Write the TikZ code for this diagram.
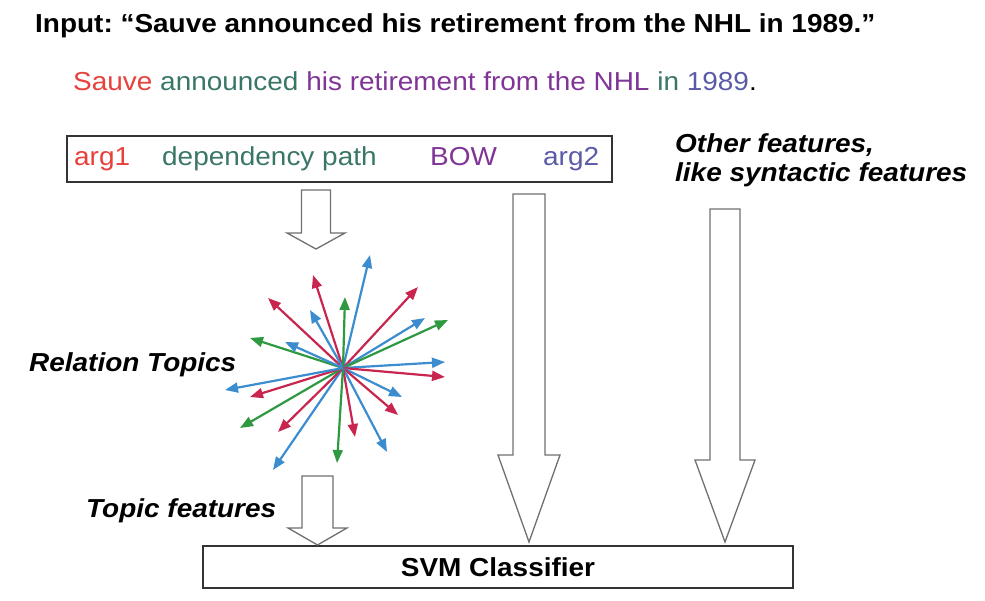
\documentclass[tikz,border=0pt]{standalone}
\usepackage{fontspec}
\setmainfont{Liberation Sans}[FakeStretch=1.075]
\usetikzlibrary{arrows.meta}
\frenchspacing
\definecolor{rcol}{RGB}{200,37,79}
\definecolor{bcol}{RGB}{60,140,208}
\definecolor{gcol}{RGB}{46,153,64}
\definecolor{scol}{RGB}{232,64,58}
\definecolor{tcol}{RGB}{58,118,104}
\definecolor{pcol}{RGB}{128,52,150}
\definecolor{ncol}{RGB}{90,90,168}
\definecolor{acol}{RGB}{112,112,112}
\tikzset{every picture/.style={x=1pt,y=-1pt}}
\tikzset{edge/.style={line width=2.2pt,-{Triangle[length=13pt,width=10pt]}}}
\tikzset{txt/.style={inner sep=0pt,anchor=base west}}
\tikzset{big/.style={font=\fontsize{26}{30}\selectfont\bfseries}}
\tikzset{bigit/.style={font=\fontsize{26}{30}\selectfont\bfseries\itshape}}
\tikzset{plain/.style={font=\fontsize{26}{30}\selectfont}}
\tikzset{blk/.style={draw=acol,line width=1.3pt,fill=white}}
\tikzset{frame/.style={draw=black!80,line width=1.5pt}}
\newcommand{\fatarrow}[6]{\draw [blk] ({#1-#2},#4) -- ({#1+#2},#4) -- ({#1+#2},#5) -- ({#1+#3},#5) -- (#1,#6) -- ({#1-#3},#5) -- ({#1-#2},#5) -- cycle;}

\begin{document}
\begin{tikzpicture}
\useasboundingbox (0,0) rectangle (985,601);

\node [txt,big] (inp) at (35,33) {Input: “Sauve announced his retirement from the NHL in 1989.”};
\node [txt,plain] (sent) at (73,91) {{\color{scol}Sauve} {\color{tcol}announced} {\color{pcol}his retirement from the NHL} {\color{tcol}in} {\color{ncol}1989}.};

\node [frame,minimum width=545pt,minimum height=46pt,inner sep=0pt] (feat) at (339.5,159) {};
\node [txt,plain,scol] (a1) at (74,166) {arg1};
\node [txt,plain,tcol] (dep) at (162,166) {dependency path};
\node [txt,plain,pcol] (bow) at (430,166) {BOW};
\node [txt,plain,ncol] (a2) at (543,166) {arg2};

\node [txt,bigit] (oth1) at (675,153) {Other features,};
\node [txt,bigit] (oth2) at (675,182) {like syntactic features};

\node [txt,bigit] (rel) at (29,372) {Relation Topics};
\node [txt,bigit] (top) at (86,517) {Topic features};

\node [frame,minimum width=590pt,minimum height=42pt,inner sep=0pt] (svm) at (498,567) {};
\node [big] (svmt) at (svm) {SVM Classifier};

\fatarrow{316}{14.5}{29}{190}{233}{249}
\fatarrow{317.5}{15.5}{29.5}{476}{528}{545}
\fatarrow{529}{16}{31}{194}{455}{542}
\fatarrow{725}{15}{30}{209}{460}{542}

\coordinate (c) at (343,368);
\coordinate (r1) at (370,255);
\coordinate (r2) at (313,275);
\coordinate (r3) at (345,297);
\coordinate (r4) at (268,298);
\coordinate (r5) at (310,310);
\coordinate (r6) at (250,338);
\coordinate (r7) at (285,342);
\coordinate (r8) at (418,287);
\coordinate (r9) at (425,318);
\coordinate (r10) at (448,320);
\coordinate (r11) at (445,362);
\coordinate (r12) at (445,377);
\coordinate (r13) at (402,397);
\coordinate (r14) at (398,415);
\coordinate (r15) at (387,452);
\coordinate (r16) at (355,437);
\coordinate (r17) at (337,463);
\coordinate (r18) at (273,470);
\coordinate (r19) at (278,432);
\coordinate (r20) at (240,428);
\coordinate (r21) at (250,397);
\coordinate (r22) at (225,390);

\draw [bcol,edge] (c) -- (r1);
\draw [rcol,edge] (c) -- (r2);
\draw [gcol,edge] (c) -- (r3);
\draw [rcol,edge] (c) -- (r4);
\draw [bcol,edge] (c) -- (r5);
\draw [gcol,edge] (c) -- (r6);
\draw [bcol,edge] (c) -- (r7);
\draw [rcol,edge] (c) -- (r8);
\draw [bcol,edge] (c) -- (r9);
\draw [gcol,edge] (c) -- (r10);
\draw [bcol,edge] (c) -- (r11);
\draw [rcol,edge] (c) -- (r12);
\draw [bcol,edge] (c) -- (r13);
\draw [rcol,edge] (c) -- (r14);
\draw [bcol,edge] (c) -- (r15);
\draw [rcol,edge] (c) -- (r16);
\draw [gcol,edge] (c) -- (r17);
\draw [bcol,edge] (c) -- (r18);
\draw [rcol,edge] (c) -- (r19);
\draw [gcol,edge] (c) -- (r20);
\draw [rcol,edge] (c) -- (r21);
\draw [bcol,edge] (c) -- (r22);
\end{tikzpicture}
\end{document}
